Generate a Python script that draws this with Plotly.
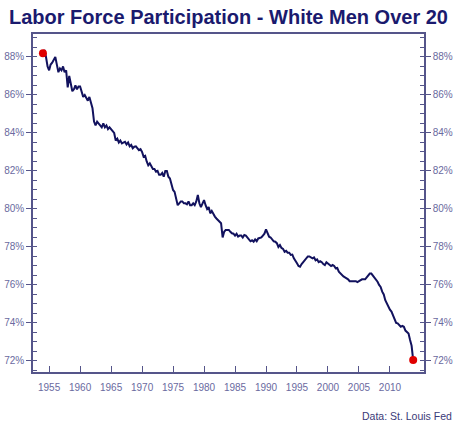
import plotly.graph_objects as go
import pandas as pd

title_text = "Labor Force Participation - White Men Over 20"
source_text = "Data: St. Louis Fed"

# quarterly readings, 1954 Q1 .. 2013 Q4 (percent)
values = [
    88.20, 88.37, 88.00, 87.50,   # 1954
    87.30, 87.60, 87.70, 87.90,   # 1955
    88.00, 87.60, 87.20, 87.40,   # 1956
    87.30, 87.50, 87.20, 87.30,   # 1957
    86.40, 87.00, 86.60, 86.20,   # 1958
    86.30, 86.50, 86.30, 86.45,   # 1959
    86.45, 86.10, 85.90, 86.00,   # 1960
    85.80, 85.70, 85.90, 85.60,   # 1961
    85.30, 84.60, 84.40, 84.60,   # 1962
    84.50, 84.40, 84.30, 84.50,   # 1963
    84.30, 84.40, 84.20, 84.30,   # 1964
    84.20, 84.15, 84.00, 83.60,   # 1965
    83.70, 83.50, 83.60, 83.45,   # 1966
    83.50, 83.54, 83.40, 83.50,   # 1967
    83.30, 83.37, 83.20, 83.28,   # 1968
    83.30, 83.20, 83.10, 83.15,   # 1969
    83.00, 82.75, 82.80, 82.50,   # 1970
    82.30, 82.40, 82.20, 82.10,   # 1971
    82.10, 81.96, 82.00, 81.80,   # 1972
    81.80, 81.90, 81.70, 82.00,   # 1973
    82.00, 81.70, 81.60, 81.35,   # 1974
    81.00, 80.90, 80.60, 80.20,   # 1975
    80.30, 80.40, 80.40, 80.30,   # 1976
    80.30, 80.25, 80.40, 80.20,   # 1977
    80.20, 80.30, 80.20, 80.40,   # 1978
    80.74, 80.30, 80.10, 80.30,   # 1979
    80.47, 80.20, 80.00, 80.10,   # 1980
    79.77, 79.90, 79.70, 79.60,   # 1981
    79.50, 79.40, 79.30, 79.25,   # 1982
    78.50, 78.80, 78.90, 78.90,   # 1983
    78.90, 78.80, 78.72, 78.70,   # 1984
    78.60, 78.70, 78.55, 78.60,   # 1985
    78.60, 78.50, 78.63, 78.60,   # 1986
    78.50, 78.40, 78.30, 78.35,   # 1987
    78.28, 78.40, 78.30, 78.45,   # 1988
    78.46, 78.50, 78.60, 78.70,   # 1989
    78.93, 78.70, 78.54, 78.50,   # 1990
    78.40, 78.30, 78.28, 78.20,   # 1991
    78.00, 78.10, 77.95, 77.90,   # 1992
    77.75, 77.80, 77.70, 77.70,   # 1993
    77.58, 77.60, 77.40, 77.30,   # 1994
    77.14, 77.00, 76.96, 77.10,   # 1995
    77.20, 77.30, 77.40, 77.50,   # 1996
    77.50, 77.45, 77.40, 77.45,   # 1997
    77.30, 77.35, 77.20, 77.25,   # 1998
    77.20, 77.10, 77.05, 77.20,   # 1999
    77.14, 77.10, 77.00, 77.05,   # 2000
    77.00, 76.88, 76.90, 76.70,   # 2001
    76.60, 76.50, 76.45, 76.40,   # 2002
    76.35, 76.30, 76.20, 76.20,   # 2003
    76.20, 76.17, 76.20, 76.15,   # 2004
    76.20, 76.26, 76.30, 76.30,   # 2005
    76.30, 76.40, 76.50, 76.60,   # 2006
    76.60, 76.50, 76.40, 76.30,   # 2007
    76.17, 76.00, 75.90, 75.65,   # 2008
    75.50, 75.20, 75.00, 74.90,   # 2009
    74.70, 74.60, 74.40, 74.20,   # 2010
    74.00, 73.98, 73.90, 73.80,   # 2011
    73.85, 73.80, 73.60, 73.50,   # 2012
    73.45, 73.10, 72.80, 72.05,   # 2013
]
dates = pd.date_range("1954-01-01", periods=len(values), freq="QS")

x_tick_years = [1955, 1960, 1965, 1970, 1975, 1980, 1985, 1990, 1995, 2000, 2005, 2010]
y_ticks = [72, 74, 76, 78, 80, 82, 84, 86, 88]
y_tick_labels = [f"{v}%" for v in y_ticks]

NAVY = "#12125e"
AXIS = "#55558a"
LABEL = "#6a6aa0"
FONT = "Liberation Sans, Arial"

fig = go.Figure()
fig.add_trace(go.Scatter(x=dates, y=values, mode="lines",
                         line=dict(color=NAVY, width=2), hoverinfo="skip",
                         showlegend=False))
fig.add_trace(go.Scatter(x=[dates[0], dates[-1]], y=[values[0], values[-1]],
                         mode="markers", marker=dict(color="#e00000", size=8),
                         showlegend=False, hoverinfo="skip"))
# invisible copy to carry the right-hand axis labels
fig.add_trace(go.Scatter(x=dates, y=values, mode="lines", yaxis="y2",
                         line=dict(color="rgba(0,0,0,0)", width=0),
                         hoverinfo="skip", showlegend=False))

yrange = [71.42, 89.21]
yax = dict(range=yrange, tickvals=y_ticks, ticktext=y_tick_labels,
           ticks="outside", ticklen=5, tickcolor=AXIS, tickwidth=1,
           showline=True, linecolor=AXIS, linewidth=1.5,
           showgrid=False, zeroline=False, automargin=False,
           tickfont=dict(family=FONT, size=10, color=LABEL),
           minor=dict(dtick=0.5, tick0=72, ticks="inside", ticklen=4,
                      tickcolor=AXIS, tickwidth=1))

fig.update_layout(
    template="none",
    width=460, height=429,
    margin=dict(l=33, r=36, t=34, b=57),
    paper_bgcolor="white", plot_bgcolor="white",
    xaxis=dict(type="date", range=["1952-05-26", "2015-07-01"],
               tickvals=[f"{y}-01-01" for y in x_tick_years],
               ticktext=[str(y) for y in x_tick_years],
               ticks="inside", ticklen=6, tickcolor=AXIS, tickwidth=1,
               ticklabelstandoff=5,
               showline=True, linecolor=AXIS, linewidth=1.5, mirror=True,
               showgrid=False, zeroline=False, automargin=False,
               tickfont=dict(family=FONT, size=10, color=LABEL)),
    yaxis=yax,
    yaxis2=dict(yax, overlaying="y", side="right", matches="y"),
    annotations=[
        dict(text=f"<b>{title_text}</b>", xref="paper", yref="paper",
             x=-26/391, y=1 + 17/338, xanchor="left", yanchor="middle",
             showarrow=False,
             font=dict(family=FONT, size=20, color="#1a1a6e")),
        dict(text=source_text, xref="paper", yref="paper",
             x=1 + 30/391, y=-44/338, xanchor="right", yanchor="middle",
             showarrow=False,
             font=dict(family=FONT, size=10.5, color="#3a3a78")),
    ],
)

fig.write_html("out.html", config={"displayModeBar": False},
               post_script="document.body.style.margin='0';")
